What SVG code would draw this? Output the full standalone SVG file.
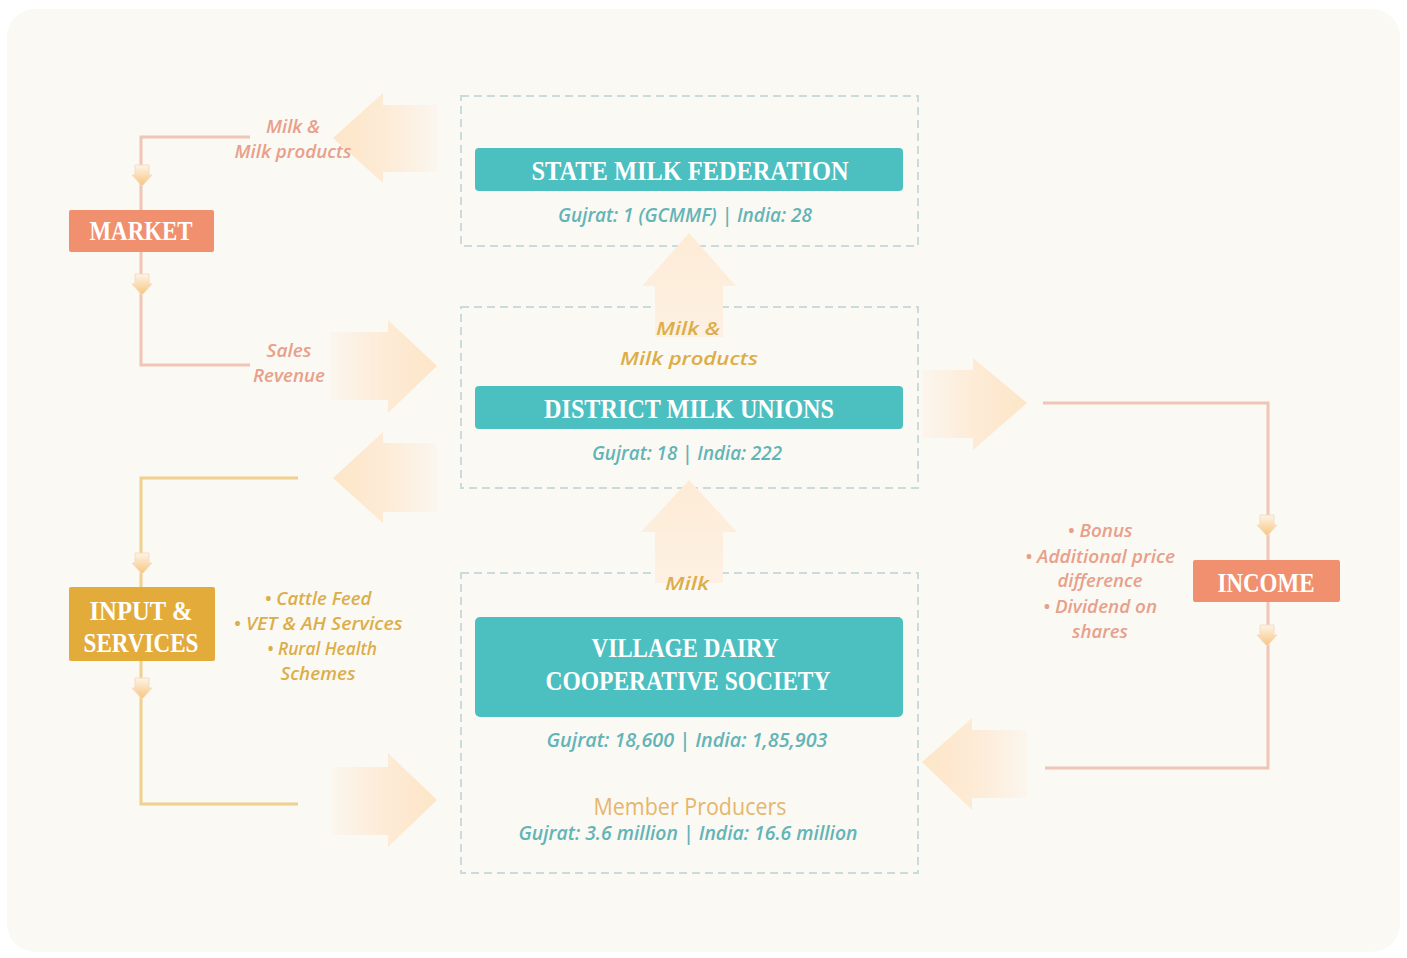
<svg xmlns="http://www.w3.org/2000/svg" width="1407" height="958" viewBox="0 0 1407 958">
<defs>
<style>
.title{font-family:"Liberation Serif","DejaVu Serif",serif;font-size:27px;font-weight:bold;fill:#ffffff;text-anchor:middle;}
.sub{font-family:"Open Sans","Noto Sans",sans-serif;font-style:italic;font-weight:600;font-size:19px;fill:#63b4b7;text-anchor:middle;}
.sal{font-family:"Open Sans","Noto Sans",sans-serif;font-style:italic;font-weight:600;font-size:18px;fill:#e8a08a;text-anchor:middle;}
.gold{font-family:"Open Sans","Noto Sans",sans-serif;font-style:italic;font-weight:600;font-size:18px;fill:#dcae4a;text-anchor:middle;}
.dash{fill:none;stroke:#c9dbda;stroke-width:2;stroke-dasharray:8 5;}
.teal{fill:#4cbfc1;}
.lineS{fill:none;stroke:#efc6b6;stroke-width:3;}
.lineG{fill:none;stroke:#f0d08e;stroke-width:3;}
.mini{stroke:#f6dcc2;stroke-width:1;}
</style>
<linearGradient id="gL" x1="0" y1="0" x2="1" y2="0">
<stop offset="0" stop-color="#fde6c8"/><stop offset="0.5" stop-color="#fdebd6"/><stop offset="1" stop-color="#fbf6ee"/>
</linearGradient>
<linearGradient id="gR" x1="0" y1="0" x2="1" y2="0">
<stop offset="0" stop-color="#fbf6ee"/><stop offset="0.5" stop-color="#fdebd6"/><stop offset="1" stop-color="#fde6c8"/>
</linearGradient>
<linearGradient id="gU" x1="0" y1="0" x2="0" y2="1">
<stop offset="0" stop-color="#fdebd5"/><stop offset="1" stop-color="#fdf1e4"/>
</linearGradient>
<linearGradient id="gMini" x1="0" y1="0" x2="0" y2="1">
<stop offset="0" stop-color="#fdf4e8"/><stop offset="1" stop-color="#f7c47c"/>
</linearGradient>
<path id="miniArrow" d="M-7,0 H7 V10 H10 L0,21 L-10,10 H-7 Z"/>
</defs>

<rect x="7" y="9" width="1393" height="943" rx="28" fill="#fbf9f4"/>

<!-- dashed container boxes -->
<g id="frames">
<rect class="dash" x="461" y="96" width="457" height="150"/>
<rect class="dash" x="461" y="307" width="457" height="181"/>
<rect class="dash" x="461" y="573" width="457" height="300"/>
</g>

<!-- connectors -->
<g id="connectors">
<polyline class="lineS" points="250,137 141,137 141,365 250,365"/>
<polyline class="lineG" points="298,478 141,478 141,804 298,804"/>
<polyline class="lineS" points="1043,403 1268,403 1268,768 1045,768"/>
<use href="#miniArrow" x="142" y="165" fill="url(#gMini)" class="mini"/>
<use href="#miniArrow" x="142" y="274" fill="url(#gMini)" class="mini"/>
<use href="#miniArrow" x="142" y="553" fill="url(#gMini)" class="mini"/>
<use href="#miniArrow" x="142" y="678" fill="url(#gMini)" class="mini"/>
<use href="#miniArrow" x="1267" y="515" fill="url(#gMini)" class="mini"/>
<use href="#miniArrow" x="1267" y="625" fill="url(#gMini)" class="mini"/>
<!-- big block arrows -->
<path d="M333,138 L383,93 V105 H437 V172 H383 V183 Z" fill="url(#gL)"/>
<path d="M437,366 L388,320 V332 H330 V400 H388 V413 Z" fill="url(#gR)"/>
<path d="M333,478 L383,432 V443 H437 V512 H383 V523 Z" fill="url(#gL)"/>
<path d="M437,800 L388,753 V767 H332 V835 H388 V847 Z" fill="url(#gR)"/>
<path d="M1027,403 L973,358 V370 H922 V438 H973 V450 Z" fill="url(#gR)"/>
<path d="M922,762 L972,718 V730 H1027 V798 H972 V810 Z" fill="url(#gL)"/>
<path d="M689,233 L736,286 H723 V337 H655 V286 H642 Z" fill="url(#gU)"/>
<path d="M689,480 L737,532 H723 V583 H655 V532 H641 Z" fill="url(#gU)"/>
<text class="sal" x="293" y="133" textLength="54" lengthAdjust="spacingAndGlyphs">Milk &amp;</text>
<text class="sal" x="293" y="158" textLength="117" lengthAdjust="spacingAndGlyphs">Milk products</text>
<text class="sal" x="289" y="357" textLength="45" lengthAdjust="spacingAndGlyphs">Sales</text>
<text class="sal" x="289" y="382" textLength="72" lengthAdjust="spacingAndGlyphs">Revenue</text>
<text class="gold" x="688" y="335" font-size="21" font-weight="400" textLength="64" lengthAdjust="spacingAndGlyphs">Milk &amp;</text>
<text class="gold" x="689" y="365" font-size="21" textLength="138" lengthAdjust="spacingAndGlyphs">Milk products</text>
<text class="gold" x="687" y="590" textLength="44" lengthAdjust="spacingAndGlyphs">Milk</text>
</g>

<g id="state-federation">
<rect class="teal" x="475" y="148" width="428" height="43" rx="4"/>
<text class="title" x="690" y="180" textLength="317" lengthAdjust="spacingAndGlyphs">STATE MILK FEDERATION</text>
<text class="sub" x="685" y="222" textLength="254" lengthAdjust="spacingAndGlyphs">Gujrat: 1 (GCMMF) | India: 28</text>
</g>

<g id="district-unions">
<rect class="teal" x="475" y="386" width="428" height="43" rx="4"/>
<text class="title" x="689" y="418" textLength="290" lengthAdjust="spacingAndGlyphs">DISTRICT MILK UNIONS</text>
<text class="sub" x="687" y="460" textLength="190" lengthAdjust="spacingAndGlyphs">Gujrat: 18 | India: 222</text>
</g>

<g id="village-society">
<rect class="teal" x="475" y="617" width="428" height="100" rx="5"/>
<text class="title" x="685" y="657" textLength="187" lengthAdjust="spacingAndGlyphs">VILLAGE DAIRY</text>
<text class="title" x="688" y="690" textLength="285" lengthAdjust="spacingAndGlyphs">COOPERATIVE SOCIETY</text>
<text class="sub" x="687" y="747" textLength="281" lengthAdjust="spacingAndGlyphs">Gujrat: 18,600 | India: 1,85,903</text>
<text x="690" y="815" font-family="Open Sans, Noto Sans, sans-serif" font-size="23" fill="#e5b66c" text-anchor="middle" textLength="193" lengthAdjust="spacingAndGlyphs">Member Producers</text>
<text class="sub" x="688" y="840" textLength="339" lengthAdjust="spacingAndGlyphs">Gujrat: 3.6 million  | India: 16.6 million</text>
</g>

<g id="market">
<rect x="69" y="210" width="145" height="42" fill="#f0906f" rx="2"/>
<text class="title" x="141" y="240" textLength="103" lengthAdjust="spacingAndGlyphs">MARKET</text>
</g>

<g id="input-services">
<rect x="69" y="587" width="146" height="74" fill="#e3ab3a" rx="2"/>
<text class="title" x="141" y="620" textLength="103" lengthAdjust="spacingAndGlyphs">INPUT &amp;</text>
<text class="title" x="141" y="652" textLength="115" lengthAdjust="spacingAndGlyphs">SERVICES</text>
<text class="gold" x="318" y="605" textLength="107" lengthAdjust="spacingAndGlyphs">• Cattle Feed</text>
<text class="gold" x="318" y="630" textLength="169" lengthAdjust="spacingAndGlyphs">• VET &amp; AH Services</text>
<text class="gold" x="322" y="655" textLength="110" lengthAdjust="spacingAndGlyphs">• Rural Health</text>
<text class="gold" x="318" y="680" textLength="75" lengthAdjust="spacingAndGlyphs">Schemes</text>
</g>

<g id="income">
<rect x="1193" y="560" width="147" height="42" fill="#f0906f" rx="2"/>
<text class="title" x="1266" y="592" textLength="97" lengthAdjust="spacingAndGlyphs">INCOME</text>
<text class="sal" x="1100" y="537" textLength="65" lengthAdjust="spacingAndGlyphs">• Bonus</text>
<text class="sal" x="1100" y="563" textLength="150" lengthAdjust="spacingAndGlyphs">• Additional price</text>
<text class="sal" x="1100" y="587" textLength="85" lengthAdjust="spacingAndGlyphs">difference</text>
<text class="sal" x="1100" y="613" textLength="114" lengthAdjust="spacingAndGlyphs">• Dividend on</text>
<text class="sal" x="1100" y="638" textLength="56" lengthAdjust="spacingAndGlyphs">shares</text>
</g>
</svg>
